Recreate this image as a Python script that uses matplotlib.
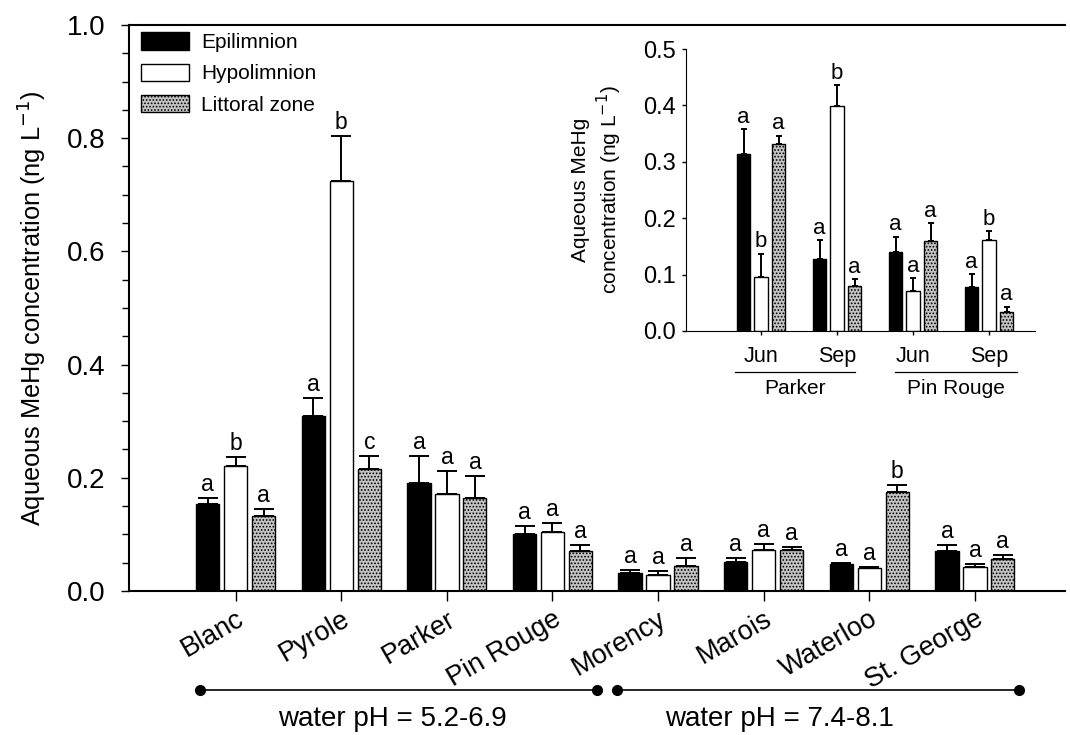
import numpy as np
import matplotlib
matplotlib.use("Agg")
import matplotlib.pyplot as plt
from matplotlib.ticker import MultipleLocator, FormatStrFormatter

plt.rcParams['font.family'] = ['Liberation Sans', 'DejaVu Sans']
plt.rcParams['hatch.linewidth'] = 0.8
plt.rcParams['hatch.color'] = '#555555'

# main panel data
lakes = ['Blanc', 'Pyrole', 'Parker', 'Pin Rouge', 'Morency', 'Marois', 'Waterloo', 'St. George']
epi = [0.154, 0.309, 0.191, 0.101, 0.032, 0.051, 0.048, 0.071]
epi_err = [0.010, 0.032, 0.048, 0.014, 0.005, 0.007, 0.002, 0.010]
hypo = [0.221, 0.724, 0.171, 0.104, 0.028, 0.072, 0.040, 0.042]
hypo_err = [0.016, 0.080, 0.041, 0.016, 0.007, 0.011, 0.002, 0.006]
litt = [0.133, 0.216, 0.164, 0.071, 0.044, 0.072, 0.175, 0.057]
litt_err = [0.012, 0.023, 0.039, 0.010, 0.014, 0.006, 0.012, 0.007]
epi_let = ['a', 'a', 'a', 'a', 'a', 'a', 'a', 'a']
hypo_let = ['b', 'b', 'a', 'a', 'a', 'a', 'a', 'a']
litt_let = ['a', 'c', 'a', 'a', 'a', 'a', 'b', 'a']

# inset data
months = ['Jun', 'Sep', 'Jun', 'Sep']
sites = ['Parker', 'Pin Rouge']
in_epi = [0.314, 0.128, 0.140, 0.078]
in_epi_err = [0.044, 0.033, 0.027, 0.023]
in_hypo = [0.096, 0.399, 0.071, 0.161]
in_hypo_err = [0.041, 0.037, 0.023, 0.016]
in_litt = [0.332, 0.080, 0.160, 0.034]
in_litt_err = [0.014, 0.012, 0.031, 0.009]
in_epi_let = ['a', 'a', 'a', 'a']
in_hypo_let = ['b', 'b', 'a', 'b']
in_litt_let = ['a', 'a', 'a', 'a']

zones = ['Epilimnion', 'Hypolimnion', 'Littoral zone']
styles = [dict(color='black', edgecolor='black'),
          dict(color='white', edgecolor='black'),
          dict(color='#c4c4c4', edgecolor='black', hatch='.....')]


def draw_bars(ax, vals, errs, lets, width, step, capsize, fs, pad):
    x = np.arange(len(vals[0]))
    for k in range(3):
        xs = x + (k - 1) * step
        ax.bar(xs, vals[k], width, linewidth=1.0, label=zones[k], zorder=2, **styles[k])
        ax.errorbar(xs, vals[k], yerr=[np.zeros(len(xs)), errs[k]], fmt='none',
                    ecolor='black', elinewidth=1.4, capsize=capsize, capthick=1.4, zorder=3)
        for xi, v, e, t in zip(xs, vals[k], errs[k], lets[k]):
            ax.annotate(t, (xi, v + e), xytext=(0, pad), textcoords='offset points',
                        ha='center', va='bottom', fontsize=fs)
    return x


fig = plt.figure(figsize=(10.7, 7.35), dpi=100)
ax = fig.add_axes([0.1206, 0.196, 0.8744, 0.770])

x = draw_bars(ax, [epi, hypo, litt], [epi_err, hypo_err, litt_err],
              [epi_let, hypo_let, litt_let], 0.22, 0.265, 7.5, 16.5, 1.5)
ax.set_xlim(-1.01, 7.85)
ax.set_ylim(0, 1.0)
ax.set_xticks(x)
ax.set_xticklabels(lakes, rotation=30, ha='right', rotation_mode='anchor', fontsize=19.5)
ax.yaxis.set_major_locator(MultipleLocator(0.2))
ax.yaxis.set_minor_locator(MultipleLocator(0.05))
ax.yaxis.set_major_formatter(FormatStrFormatter('%.1f'))
ax.tick_params(axis='y', labelsize=20, length=6, width=1, pad=11)
ax.tick_params(axis='y', which='minor', length=5, width=1)
ax.tick_params(axis='x', length=7, width=1, pad=4)
ax.spines['right'].set_visible(False)
for s in ['left', 'bottom', 'top']:
    ax.spines[s].set_linewidth(1.5)
ax.set_ylabel('Aqueous MeHg concentration (ng L$^{-1}$)', fontsize=18.3, labelpad=13)

leg = ax.legend(loc='upper left', frameon=False, fontsize=15, handlelength=2.3,
                handleheight=0.9, borderaxespad=0.0, borderpad=0.35, labelspacing=0.55,
                handletextpad=0.6, bbox_to_anchor=(0.005, 1.0))

# pH ranges below the axis
tr = ax.get_xaxis_transform()
for x0, x1, txt, xt in [(-0.34, 3.42, 'water pH = 5.2-6.9', 1.48), (3.61, 7.42, 'water pH = 7.4-8.1', 5.15)]:
    ax.plot([x0, x1], [-0.175, -0.175], color='black', lw=1.2, marker='o', ms=7,
            transform=tr, clip_on=False)
    ax.text(xt, -0.226, txt, transform=tr, ha='center', va='center', fontsize=20)

# inset
ins = fig.add_axes([0.641, 0.5497, 0.326, 0.3836])
xi = draw_bars(ins, [in_epi, in_hypo, in_litt], [in_epi_err, in_hypo_err, in_litt_err],
               [in_epi_let, in_hypo_let, in_litt_let], 0.18, 0.23, 2.5, 16, 1)
ins.set_xlim(-0.99, 3.6)
ins.set_ylim(0, 0.5)
ins.set_xticks(xi)
ins.set_xticklabels(months, fontsize=15.5)
ins.yaxis.set_major_locator(MultipleLocator(0.1))
ins.yaxis.set_major_formatter(FormatStrFormatter('%.1f'))
ins.tick_params(axis='y', labelsize=17, length=3, width=1, pad=4)
ins.tick_params(axis='x', length=3, width=1, pad=8)
ins.spines['right'].set_visible(False)
ins.spines['top'].set_visible(False)
ins.set_ylabel('Aqueous MeHg\nconcentration (ng L$^{-1}$)', fontsize=15, labelpad=14)
ins.patch.set_alpha(0)

itr = ins.get_xaxis_transform()
for x0, x1, txt in [(-0.34, 1.24, sites[0]), (1.76, 3.37, sites[1])]:
    ins.plot([x0, x1], [-0.145, -0.145], color='black', lw=0.9, transform=itr, clip_on=False)
    ins.text((x0 + x1) / 2, -0.205, txt, transform=itr, ha='center', va='center', fontsize=15)

fig.savefig('out.png', dpi=100)
